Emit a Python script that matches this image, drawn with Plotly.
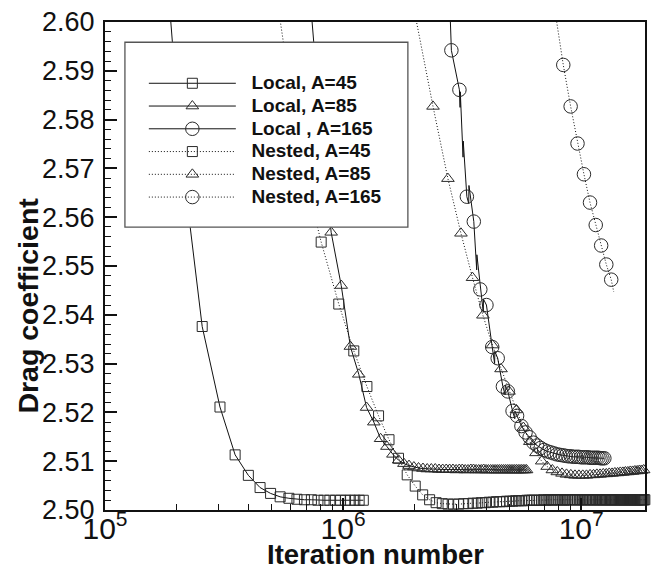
import plotly.graph_objects as go

# ---------------- data ----------------
# Local, A=45 (solid, squares)
la45_x = [2.08e5, 2.56e5, 3.04e5, 3.52e5, 4.00e5, 4.48e5, 4.96e5, 5.44e5, 5.92e5,
          6.40e5, 6.88e5, 7.36e5, 7.84e5, 8.32e5, 8.80e5, 9.28e5, 9.76e5,
          1.024e6, 1.072e6, 1.120e6, 1.168e6, 1.216e6]
la45_y = [2.5740, 2.5376, 2.5211, 2.5113, 2.5071, 2.5046, 2.5034, 2.5027, 2.5024,
          2.5022, 2.5021, 2.5021, 2.5020, 2.5020, 2.5020, 2.5020, 2.5020,
          2.5020, 2.5020, 2.5020, 2.5020, 2.5020]
la45_lead_x = [1.75e5, 1.89e5]
la45_lead_y = [2.640, 2.600]

# Local, A=85 (solid, triangles): samples every 9.1e4 iterations from 8.0e5
la85_x0, la85_dx = 8.0e5, 9.1e4
la85_y = [2.5800, 2.5569, 2.5460, 2.5335, 2.5278, 2.5210, 2.5180, 2.5146, 2.5130, 2.5114,
          2.5102, 2.5095, 2.5091, 2.5088, 2.5086, 2.5085, 2.5084, 2.5084, 2.5084, 2.5083,
          2.5083, 2.5083, 2.5083, 2.5083, 2.5082, 2.5083, 2.5083, 2.5082, 2.5082, 2.5083,
          2.5083, 2.5082, 2.5082, 2.5082, 2.5083, 2.5082, 2.5082, 2.5082, 2.5082, 2.5082,
          2.5082, 2.5082, 2.5082, 2.5082, 2.5082, 2.5082, 2.5082, 2.5082, 2.5082, 2.5082,
          2.5082, 2.5082, 2.5082, 2.5082, 2.5082, 2.5082, 2.5082]
la85_lead_x = [7.10e5, 7.41e5]
la85_lead_y = [2.617, 2.600]

# Local , A=165 (solid, circles): samples every 2.3e5 iterations from 2.85e6
la165_x0, la165_dx = 2.85e6, 2.3e5
la165_y = [2.5942, 2.5861, 2.5642, 2.5591, 2.5452, 2.5420, 2.5334, 2.5311, 2.5253, 2.5243,
           2.5203, 2.5193, 2.5172, 2.5159, 2.5149, 2.5138, 2.5132, 2.5127, 2.5123, 2.5120,
           2.5118, 2.5116, 2.5114, 2.5113, 2.5112, 2.5111, 2.5110, 2.5110, 2.5109, 2.5109,
           2.5109, 2.5108, 2.5108, 2.5108, 2.5108, 2.5107, 2.5107, 2.5107, 2.5107, 2.5107,
           2.5106, 2.5106, 2.5106]
# extra line points of the solid curve (start and the restart spikes)
la165_extra_x = [2.78e6, 3.100e6, 3.106e6, 3.190e6, 3.196e6, 3.370e6, 3.377e6,
                 3.640e6, 3.647e6, 3.880e6, 3.887e6, 4.330e6, 4.338e6,
                 4.790e6, 4.798e6, 5.260e6, 5.268e6]
la165_extra_y = [2.6090, 2.5825, 2.5857, 2.5723, 2.5756, 2.5628, 2.5665,
                 2.5492, 2.5523, 2.5405, 2.5432, 2.5300, 2.5325,
                 2.5236, 2.5256, 2.5187, 2.5203]

# Nested, A=45 (dotted, squares): samples every 1.5e5 iterations from 6.59e5
na45_x0, na45_dx = 6.59e5, 1.5e5
na45_y = [2.5726, 2.5549, 2.5422, 2.5326, 2.5253, 2.5193, 2.5144, 2.5106, 2.5072, 2.5049,
          2.5031, 2.5021, 2.5015, 2.5013, 2.5012, 2.5012, 2.5012, 2.5013, 2.5013, 2.5014,
          2.5014, 2.5015, 2.5015, 2.5016, 2.5016, 2.5017, 2.5017, 2.5017, 2.5018, 2.5018,
          2.5018, 2.5019, 2.5019, 2.5019, 2.5019, 2.5020, 2.5020, 2.5020, 2.5020, 2.5020,
          2.5020, 2.5020, 2.5021, 2.5020, 2.5021, 2.5021, 2.5020, 2.5021, 2.5021, 2.5021,
          2.5021, 2.5021, 2.5020, 2.5021, 2.5021, 2.5021, 2.5021, 2.5021, 2.5021, 2.5021,
          2.5021, 2.5021, 2.5021, 2.5021, 2.5021, 2.5021, 2.5021, 2.5021, 2.5021, 2.5021,
          2.5021, 2.5021, 2.5021, 2.5021, 2.5021, 2.5021, 2.5021, 2.5021, 2.5021, 2.5021,
          2.5021, 2.5021, 2.5021, 2.5021, 2.5021, 2.5021, 2.5021, 2.5021, 2.5021, 2.5021,
          2.5021, 2.5021, 2.5021, 2.5021, 2.5021, 2.5021, 2.5021, 2.5021, 2.5021, 2.5021,
          2.5021, 2.5021, 2.5021, 2.5021, 2.5021, 2.5021, 2.5021, 2.5021, 2.5021, 2.5021,
          2.5021, 2.5021, 2.5021, 2.5021, 2.5021, 2.5021, 2.5021, 2.5021, 2.5021, 2.5021,
          2.5021, 2.5021, 2.5021, 2.5021, 2.5021, 2.5021, 2.5021]
na45_lead_x = [5.09e5]
na45_lead_y = [2.610]

# Nested, A=85 (dotted, triangles): samples every 3.7e5 iterations from 2.016e6
na85_x0, na85_dx = 2.016e6, 3.7e5
na85_y = [2.6010, 2.5827, 2.5679, 2.5567, 2.5476, 2.5399, 2.5338, 2.5289, 2.5243, 2.5205,
          2.5169, 2.5140, 2.5117, 2.5100, 2.5089, 2.5082, 2.5078, 2.5075, 2.5073, 2.5072,
          2.5071, 2.5071, 2.5071, 2.5071, 2.5072, 2.5072, 2.5073, 2.5073, 2.5074, 2.5074,
          2.5075, 2.5075, 2.5076, 2.5076, 2.5077, 2.5077, 2.5078, 2.5078, 2.5079, 2.5079,
          2.5080, 2.5080, 2.5081, 2.5081, 2.5082, 2.5082, 2.5083, 2.5083]

# Nested, A=165 (dotted, circles): samples every 6.2e5 iterations from 8.41e6
na165_x0, na165_dx = 8.41e6, 6.2e5
na165_y = [2.5912, 2.5827, 2.5751, 2.5688, 2.5630, 2.5584, 2.5542, 2.5503, 2.5472]
na165_lead_x = [7.75e6]
na165_lead_y = [2.6025]
na165_tail_x = [1.37e7]
na165_tail_y = [2.5447]

legend_names = ["Local, A=45", "Local, A=85", "Local , A=165",
                "Nested, A=45", "Nested, A=85", "Nested, A=165"]

x_range = [5, 7.268]          # log10 of iteration number
y_range = [2.50, 2.60]


def sampled(x0, dx, ys):
    return [x0 + i * dx for i in range(len(ys))]


def merged(*pairs):
    pts = []
    for xs, ys in pairs:
        pts.extend(zip(xs, ys))
    pts.sort(key=lambda p: p[0])
    return [p[0] for p in pts], [p[1] for p in pts]


la85_x = sampled(la85_x0, la85_dx, la85_y)
la165_x = sampled(la165_x0, la165_dx, la165_y)
na45_x = sampled(na45_x0, na45_dx, na45_y)
na85_x = sampled(na85_x0, na85_dx, na85_y)
na165_x = sampled(na165_x0, na165_dx, na165_y)

LINE_C = "#111111"
MARK_C = "#2a2a2a"
SOLID = "solid"
DOTTED = "1px,2px"

series = [
    (0, la45_x, la45_y, merged((la45_lead_x, la45_lead_y), (la45_x, la45_y)),
     "square-open", 10, SOLID, True),
    (1, la85_x, la85_y, merged((la85_lead_x, la85_lead_y), (la85_x, la85_y)),
     "triangle-up-open", 11, SOLID, True),
    (2, la165_x, la165_y, merged((la165_extra_x, la165_extra_y), (la165_x, la165_y)),
     "circle-open", 13.5, SOLID, True),
    (3, na45_x, na45_y, merged((na45_lead_x, na45_lead_y), (na45_x, na45_y)),
     "square-open", 10, DOTTED, False),
    (4, na85_x[1:], na85_y[1:], merged((na85_x, na85_y)),
     "triangle-up-open", 11, DOTTED, False),
    (5, na165_x, na165_y, merged((na165_lead_x, na165_lead_y), (na165_x, na165_y),
                                 (na165_tail_x, na165_tail_y)),
     "circle-open", 13.5, DOTTED, True),
]

fig = go.Figure()

for idx, mx, my, (lx, ly), sym, size, dash, clip in series:
    fig.add_trace(go.Scatter(x=lx, y=ly, mode="lines",
                             line=dict(color=LINE_C, width=1, dash=dash),
                             showlegend=False, hoverinfo="skip"))
    fig.add_trace(go.Scatter(x=mx, y=my, mode="markers", cliponaxis=clip,
                             marker=dict(symbol=sym, size=size, color=MARK_C,
                                         line=dict(width=1, color=MARK_C)),
                             showlegend=False, name=legend_names[idx]))

# legend entries (line + symbol samples)
for idx, mx, my, _, sym, size, dash, clip in series:
    label = ('<span style="font-size:19px">\u00a0\u00a0'
             + legend_names[idx] + '</span>')
    fig.add_trace(go.Scatter(x=[None], y=[None], mode="lines+markers", name=label,
                             line=dict(color=LINE_C, width=1, dash=dash),
                             marker=dict(symbol=sym, size=size, color=MARK_C,
                                         line=dict(width=1, color=MARK_C))))

L, R, T, B = 105, 7, 16.5, 61
W, H = 654, 571
pw, ph = W - L - R, H - T - B


def px_x(p):
    return (p - L) / pw


def px_y(p):
    return (H - B - p) / ph


FONT = "Liberation Sans, Arial, Helvetica, sans-serif"

fig.update_layout(
    width=W, height=H, autosize=False,
    margin=dict(l=L, r=R, t=T, b=B, pad=0),
    paper_bgcolor="white", plot_bgcolor="white",
    font=dict(family=FONT, color="#111"),
    showlegend=True,
    legend=dict(x=px_x(144), y=px_y(61.9), xanchor="left", yanchor="top",
                bgcolor="rgba(0,0,0,0)", borderwidth=0, itemwidth=87,
                tracegroupgap=0, traceorder="normal",
                font=dict(family=FONT, size=15.2, color="#111", weight="bold")),
    shapes=[dict(type="rect", xref="paper", yref="paper",
                 x0=px_x(125), x1=px_x(409), y0=px_y(224), y1=px_y(37),
                 fillcolor="white", line=dict(color="#555", width=1.3),
                 layer="above")],
    xaxis=dict(type="log", range=x_range, showline=True, linewidth=2,
               linecolor="#111", mirror=True, ticks="inside", ticklen=12,
               tickwidth=1.5, tickcolor="#111", dtick=1, exponentformat="power",
               showgrid=False, zeroline=False, ticklabelstandoff=-8,
               tickfont=dict(family=FONT, size=24, color="#111"),
               minor=dict(ticks="inside", ticklen=6, tickwidth=1, tickcolor="#111",
                          dtick="D1", showgrid=False)),
    yaxis=dict(range=y_range, showline=True, linewidth=2, linecolor="#111",
               mirror=True, ticks="inside", ticklen=12, tickwidth=1.5,
               tickcolor="#111", tick0=2.5, dtick=0.01, tickformat=".2f",
               showgrid=False, zeroline=False, ticklabelstandoff=3,
               tickfont=dict(family=FONT, size=27, color="#111")),
    annotations=[
        dict(text="<b>Drag coefficient</b>", xref="paper", yref="paper",
             x=px_x(28), y=px_y(303), textangle=-90, showarrow=False,
             xanchor="center", yanchor="middle",
             font=dict(family=FONT, size=28.5, color="#111")),
        dict(text="<b>Iteration number</b>", xref="paper", yref="paper",
             x=0.5, y=px_y(555), showarrow=False, xanchor="center", yanchor="middle",
             font=dict(family=FONT, size=27.5, color="#111")),
    ],
)
fig.update_yaxes(minor=dict(ticks="inside", ticklen=6, tickwidth=1, tickcolor="#111",
                            dtick=0.002, showgrid=False))

# no page margin around the 654x571 figure, and no mode bar
fig.write_html("out.html",
               config={"displayModeBar": False},
               post_script="document.body.style.margin='0px';"
                           "document.body.style.padding='0px';")
